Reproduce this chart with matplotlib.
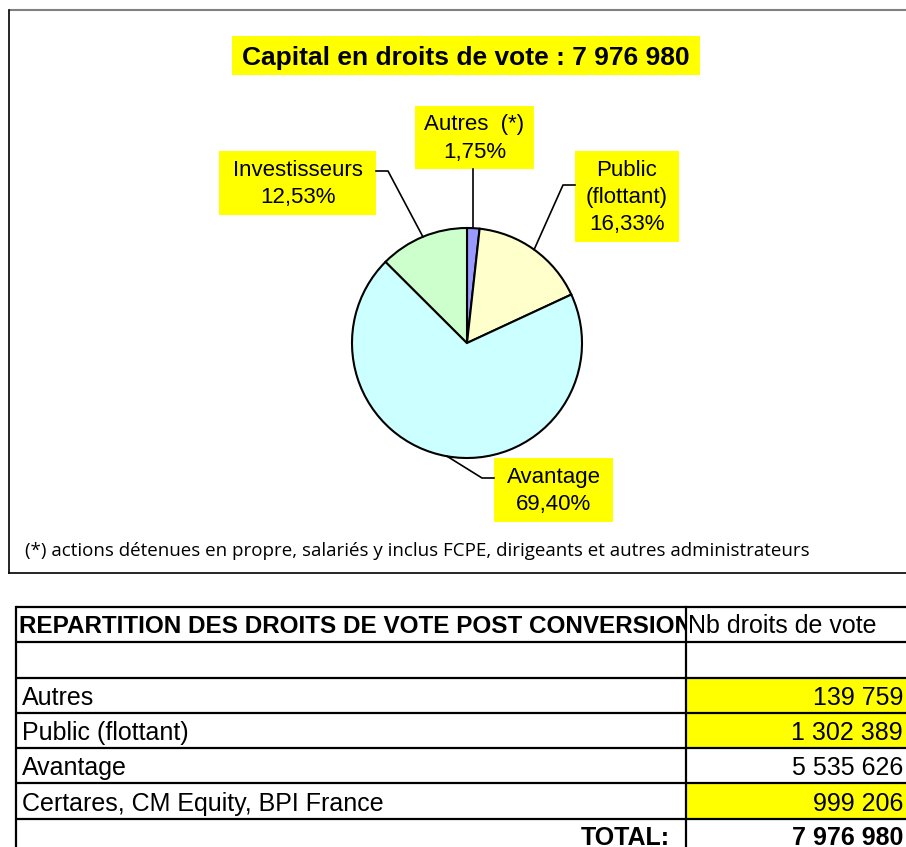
import numpy as np
import matplotlib.pyplot as plt
from matplotlib.patches import Rectangle
from matplotlib.transforms import Bbox, TransformedBbox

# voting rights after conversion
categories = ['Autres', 'Public (flottant)', 'Avantage', 'Certares, CM Equity, BPI France']
pie_labels = ['Autres  (*)', 'Public\n(flottant)', 'Avantage', 'Investisseurs']
votes = [139759, 1302389, 5535626, 999206]
highlighted_rows = [True, True, False, True]

title = 'Capital en droits de vote : '
footnote = '(*) actions détenues en propre, salariés y inclus FCPE, dirigeants et autres administrateurs'
table_header = 'REPARTITION DES DROITS DE VOTE POST CONVERSION'
value_header = 'Nb droits de vote'

colors = ['#9999FF', '#FFFFCC', '#CCFFFF', '#CCFFCC']
YELLOW = '#FFFF00'
FONT = 'Liberation Sans'

W, H = 906, 847


def Y(py):
    # pixel rows are counted from the top of the image
    return H - py


def fmt_int(v):
    return f'{v:,}'.replace(',', ' ')


total = sum(votes)
shares = [v / total * 100 for v in votes]

fig = plt.figure(figsize=(W / 100, H / 100), dpi=100)
ax = fig.add_axes([0, 0, 1, 1])

# chart frame
ax.plot([9, W], [Y(10), Y(10)], color='#808080', lw=1.5, solid_capstyle='butt')
ax.plot([9, 9], [Y(10), Y(573)], color='black', lw=1.2)
ax.plot([9, W], [Y(573), Y(573)], color='black', lw=1.2)

# title
ax.add_patch(Rectangle((232, Y(75)), 468, 39, facecolor=YELLOW, edgecolor='none'))
ax.text(466, Y(65), title + fmt_int(total), ha='center', va='baseline',
        fontsize=19, fontweight='bold', family=FONT)

# pie
cx, cy, r = 467, Y(343), 115
wedges, _ = ax.pie(votes, colors=colors, startangle=90, counterclock=False,
                   center=(cx, cy), radius=r, frame=True,
                   wedgeprops=dict(edgecolor='black', linewidth=1.5))

# label boxes (x0, y0, x1, y1) and leader elbows
boxes = [(415, 106, 534, 169), (575, 151, 679, 242), (494, 458, 613, 522), (219, 151, 376, 215)]
leaders = [None, [(575, 185), (563, 185)], [(494, 478), (482, 478)], [(376, 171), (388, 171)]]

for i, w in enumerate(wedges):
    mid = np.deg2rad((w.theta1 + w.theta2) / 2)
    ex, ey = cx + r * np.cos(mid), cy + r * np.sin(mid)
    x0, y0, x1, y1 = boxes[i]
    if leaders[i] is None:
        xs, ys = [ex, ex], [Y(y1), ey]
    else:
        xs = [p[0] for p in leaders[i]] + [ex]
        ys = [Y(p[1]) for p in leaders[i]] + [ey]
    ax.plot(xs, ys, color='black', lw=1.2)
    ax.add_patch(Rectangle((x0, Y(y1)), x1 - x0, y1 - y0, facecolor=YELLOW, edgecolor='none'))
    pct = f'{shares[i]:.2f}'.replace('.', ',') + '%'
    ax.text((x0 + x1) / 2, Y((y0 + y1) / 2 + 1), pie_labels[i] + '\n' + pct,
            ha='center', va='center', multialignment='center',
            fontsize=16, family=FONT, linespacing=1.4)

ax.text(25, Y(556), footnote, ha='left', va='baseline', fontsize=13.5, family='Open Sans')

# table
row_lines = [607, 642, 678, 713, 748, 783, 819]
col_x = 686
for yl in row_lines:
    ax.plot([16, W], [Y(yl), Y(yl)], color='black', lw=1.6, solid_capstyle='butt')
ax.plot([16, 16], [Y(607), 0], color='black', lw=1.6)
ax.plot([col_x, col_x], [Y(607), 0], color='black', lw=1.6)

# header is cut by the column border, as in the spreadsheet
hdr = ax.text(19, Y(633), table_header, ha='left', va='baseline',
              fontsize=17.5, fontweight='bold', family=FONT)
hdr.set_clip_box(TransformedBbox(Bbox([[16, Y(642)], [col_x - 1, Y(607)]]), ax.transData))
hdr.set_clip_on(True)
ax.text(688, Y(633), value_header, ha='left', va='baseline', fontsize=18, family=FONT)

for i, (name, v) in enumerate(zip(categories, votes)):
    top, bottom = row_lines[i + 2], row_lines[i + 3]
    if highlighted_rows[i]:
        ax.add_patch(Rectangle((col_x, Y(bottom)), W - col_x, bottom - top,
                               facecolor=YELLOW, edgecolor='none', zorder=0))
    ax.text(22, Y(bottom - 8), name, ha='left', va='baseline', fontsize=18, family=FONT)
    ax.text(903, Y(bottom - 8), fmt_int(v), ha='right', va='baseline', fontsize=18, family=FONT)

ax.text(670, Y(845), 'TOTAL:', ha='right', va='baseline', fontsize=18,
        fontweight='bold', family=FONT)
ax.text(903, Y(845), fmt_int(total), ha='right', va='baseline', fontsize=18,
        fontweight='bold', family=FONT)

ax.set_xlim(0, W)
ax.set_ylim(0, H)
ax.axis('off')

fig.savefig('out.png', dpi=100, facecolor='white')
